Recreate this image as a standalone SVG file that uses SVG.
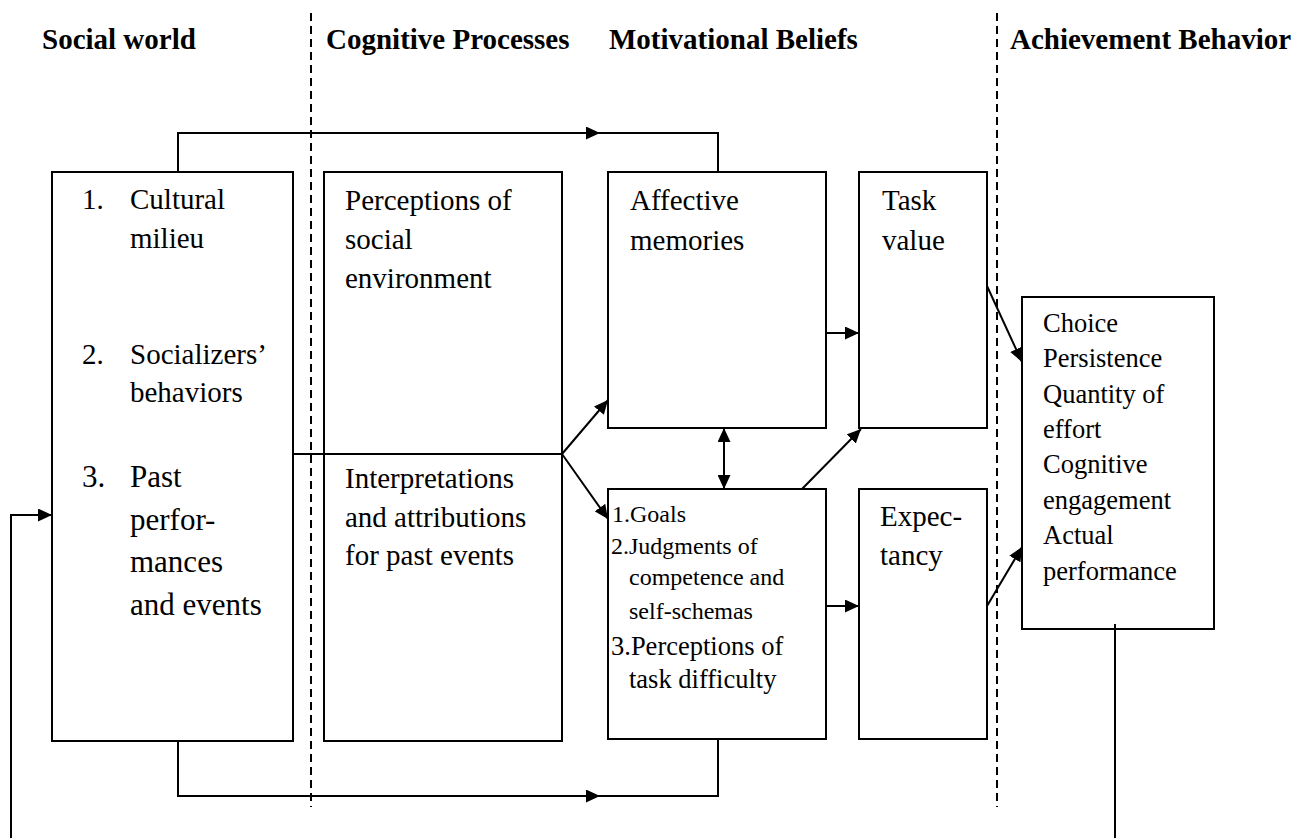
<svg xmlns="http://www.w3.org/2000/svg" width="1309" height="838" viewBox="0 0 1309 838">
<style>
  .box { fill: #fff; stroke: #000; stroke-width: 2; }
  .hdr { font-family: "Liberation Serif", "Times New Roman", serif; font-weight: bold; font-size: 29px; fill: #000; }
  .t { font-family: "Liberation Serif", "Times New Roman", serif; font-size: 29px; fill: #000; }
  .t31 { font-family: "Liberation Serif", "Times New Roman", serif; font-size: 31px; fill: #000; }
  .t24 { font-family: "Liberation Serif", "Times New Roman", serif; font-size: 24px; fill: #000; }
  .t26 { font-family: "Liberation Serif", "Times New Roman", serif; font-size: 26.5px; fill: #000; }
  .ln { fill: none; stroke: #000; stroke-width: 2; }
  .thin { fill: none; stroke: #000; stroke-width: 1.6; }
  .dash { fill: none; stroke: #000; stroke-width: 2; stroke-dasharray: 8 5; }
</style>
<defs>
  <marker id="ah" viewBox="0 0 14 13" refX="14" refY="6.5" markerWidth="14" markerHeight="13" markerUnits="userSpaceOnUse" orient="auto-start-reverse">
    <path d="M0,0 L14,6.5 L0,13 z" fill="#000"/>
  </marker>
</defs>
<rect width="1309" height="838" fill="#fff"/>

<g id="headers">
  <text class="hdr" x="42" y="49">Social world</text>
  <text class="hdr" x="326" y="49">Cognitive Processes</text>
  <text class="hdr" x="609" y="49">Motivational Beliefs</text>
  <text class="hdr" x="1010" y="49">Achievement Behavior</text>
</g>

<g id="dividers">
  <line class="dash" x1="311" y1="13" x2="311" y2="807"/>
  <line class="dash" x1="997" y1="13" x2="997" y2="807"/>
</g>

<g id="social-world">
  <rect class="box" x="52" y="172" width="241" height="569"/>
  <text class="t" x="82" y="209">1.</text>
  <text class="t" x="130" y="209">Cultural</text>
  <text class="t" x="130" y="248">milieu</text>
  <text class="t" x="82" y="364">2.</text>
  <text class="t" x="130" y="364">Socializers’</text>
  <text class="t" x="130" y="402">behaviors</text>
  <text class="t31" x="82" y="487">3.</text>
  <text class="t31" x="130" y="487">Past</text>
  <text class="t31" x="130" y="530">perfor-</text>
  <text class="t31" x="130" y="572">mances</text>
  <text class="t31" x="130" y="615">and events</text>
</g>

<g id="cognitive-processes">
  <rect class="box" x="324" y="172" width="238" height="569"/>
  <text class="t" x="345" y="210">Perceptions of</text>
  <text class="t" x="345" y="249">social</text>
  <text class="t" x="345" y="288">environment</text>
  <text class="t" x="345" y="488">Interpretations</text>
  <text class="t" x="345" y="527">and attributions</text>
  <text class="t" x="345" y="565">for past events</text>
</g>

<g id="affective-memories">
  <rect class="box" x="608" y="172" width="218" height="256"/>
  <text class="t" x="630" y="210">Affective</text>
  <text class="t" x="630" y="250">memories</text>
</g>

<g id="goals">
  <rect class="box" x="608" y="489" width="218" height="250"/>
  <text class="t24" x="612" y="522">1.Goals</text>
  <text class="t24" x="611" y="554">2.Judgments of</text>
  <text class="t24" x="629" y="585">competence and</text>
  <text class="t24" x="629" y="619">self-schemas</text>
  <text class="t26" x="611" y="655">3.Perceptions of</text>
  <text class="t26" x="629" y="688">task difficulty</text>
</g>

<g id="task-value">
  <rect class="box" x="859" y="172" width="128" height="256"/>
  <text class="t" x="882" y="210">Task</text>
  <text class="t" x="882" y="250">value</text>
</g>

<g id="expectancy">
  <rect class="box" x="859" y="489" width="128" height="250"/>
  <text class="t" x="880" y="526">Expec-</text>
  <text class="t" x="880" y="565">tancy</text>
</g>

<g id="achievement">
  <rect class="box" x="1022" y="297" width="192" height="332"/>
  <text class="t26" x="1043" y="332">Choice</text>
  <text class="t26" x="1043" y="367">Persistence</text>
  <text class="t26" x="1043" y="403">Quantity of</text>
  <text class="t26" x="1043" y="438">effort</text>
  <text class="t26" x="1043" y="473">Cognitive</text>
  <text class="t26" x="1043" y="509">engagement</text>
  <text class="t26" x="1043" y="544">Actual</text>
  <text class="t26" x="1043" y="580">performance</text>
</g>

<g id="connectors">
  <!-- top bypass -->
  <path class="ln" d="M178,172 V133 H600" marker-end="url(#ah)"/>
  <path class="ln" d="M600,133 H718 V172"/>
  <!-- bottom bypass -->
  <path class="ln" d="M178,741 V796 H600" marker-end="url(#ah)"/>
  <path class="ln" d="M600,796 H718 V739"/>
  <!-- divider through cognitive box -->
  <line class="ln" x1="293" y1="454" x2="562" y2="454"/>
  <line class="ln" x1="562" y1="454" x2="608" y2="400" marker-end="url(#ah)"/>
  <line class="ln" x1="562" y1="454" x2="608" y2="519" marker-end="url(#ah)"/>
  <!-- affective <-> goals -->
  <line class="ln" x1="724" y1="428" x2="724" y2="489" marker-start="url(#ah)" marker-end="url(#ah)"/>
  <!-- to task value -->
  <line class="ln" x1="826" y1="333" x2="859" y2="333" marker-end="url(#ah)"/>
  <line class="ln" x1="802" y1="489" x2="861" y2="429" marker-end="url(#ah)"/>
  <!-- goals to expectancy -->
  <line class="ln" x1="826" y1="606" x2="859" y2="606" marker-end="url(#ah)"/>
  <!-- to achievement -->
  <line class="ln" x1="987" y1="286" x2="1022" y2="362" marker-end="url(#ah)"/>
  <line class="ln" x1="987" y1="606" x2="1022" y2="547" marker-end="url(#ah)"/>
  <!-- feedback loop -->
  <line class="ln" x1="1115" y1="624" x2="1115" y2="840"/>
  <path class="ln" d="M11,840 V515 H52" marker-end="url(#ah)"/>
</g>
</svg>
